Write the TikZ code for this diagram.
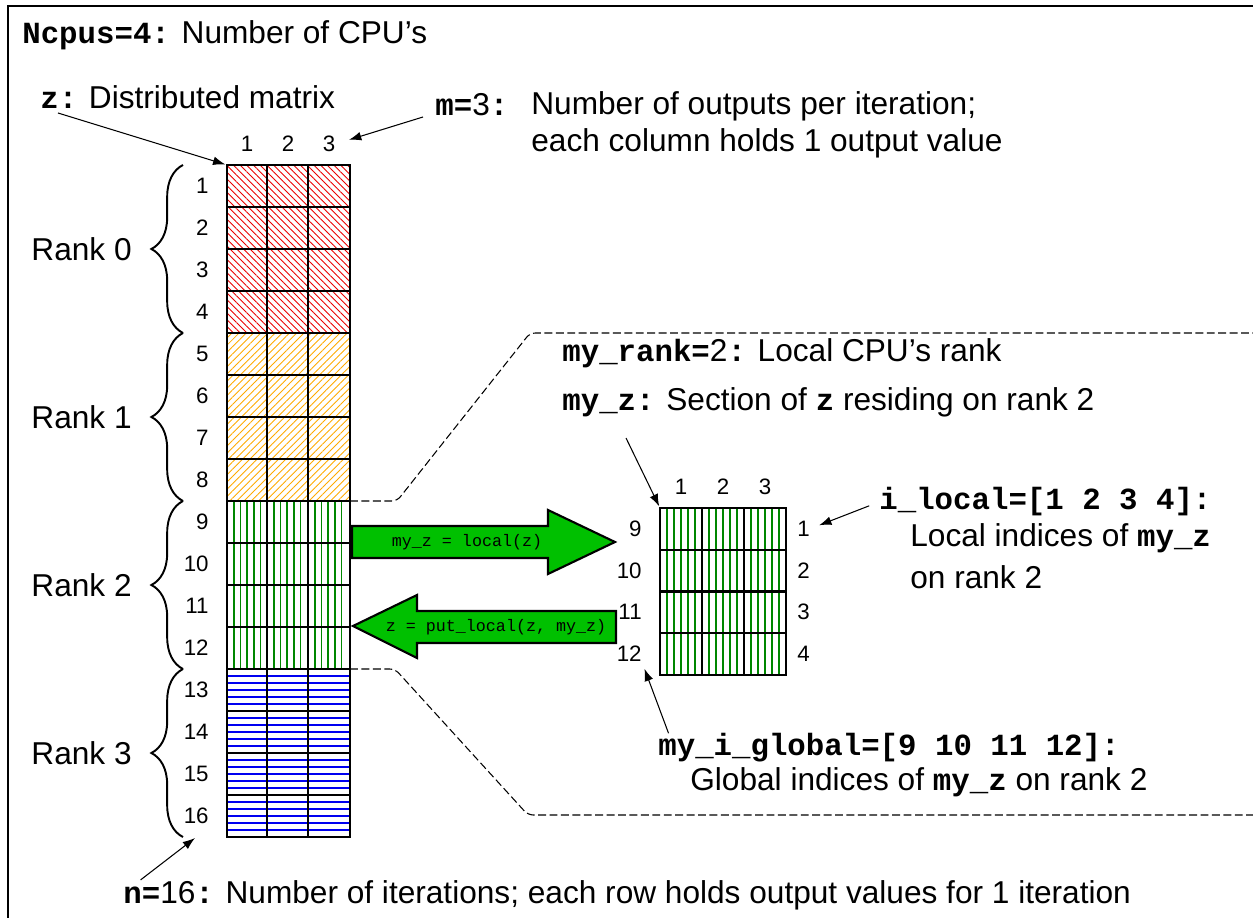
\documentclass[tikz,border=0pt]{standalone}
\usepackage{fontspec}
\setmainfont{Liberation Sans}
\setmonofont{Liberation Mono}
\usetikzlibrary{arrows.meta,patterns.meta,decorations.pathreplacing}
\definecolor{arrow green}{RGB}{0,192,0}
\definecolor{hatch red}{RGB}{235,0,0}
\definecolor{hatch orange}{RGB}{255,170,0}
\definecolor{hatch green}{RGB}{0,135,0}
\definecolor{hatch blue}{RGB}{0,0,240}
\newcommand{\cd}[1]{{\fontsize{17.5}{21}\selectfont\ttfamily\bfseries #1}}
\newcommand{\bigtext}{\fontsize{18}{21}\selectfont}
\newcommand{\idxtext}{\fontsize{12.7}{15}\selectfont}
\newcommand{\arrowcode}{\fontsize{9.5}{11}\selectfont\ttfamily}

\tikzset{
  ptr/.style={-{Latex[length=7pt,width=5pt]}, line width=0.6pt},
  zoomline/.style={dash pattern=on 4.5pt off 2pt, line width=0.6pt, rounded corners=3pt},
  rankbrace/.style={decorate, decoration={brace, amplitude=18pt}, line width=1.1pt},
  hatch0/.style={pattern={Lines[angle=-45,distance=2.7pt,line width=0.5pt]}, pattern color=hatch red},
  hatch1/.style={pattern={Lines[angle=45,distance=2.9pt,line width=0.5pt]}, pattern color=hatch orange},
  vline/.style={hatch green, line width=0.7pt},
  hline/.style={hatch blue, line width=0.7pt},
  bigarrow/.style={fill=arrow green, draw=black, line width=1.2pt},
  lbl/.style={inner sep=0pt}
}

\begin{document}
\begin{tikzpicture}[x=0.02cm, y=-0.02cm]
			\useasboundingbox (0,0) rectangle (1253,918);
			\clip (0,0) rectangle (1253,918);
			% frame
			\draw[line width=1.2pt] (8,6) rectangle (1300,1000);
			% distributed matrix z
			\foreach \k in {0,1}
				\fill[hatch\k] (227,{165+168*\k}) rectangle (350,{333+168*\k});
			\foreach \c in {227,267,308}
				\foreach \d in {7,13.5,20,27,33.5}
					\draw[vline] ({\c+\d},501) -- ({\c+\d},669);
			\foreach \i in {1,...,23}
				\draw[hline] (227,{669+7*\i}) -- (350,{669+7*\i});
			\foreach \r in {1,...,15}
				\draw[line width=0.6pt] (227,{165+42*\r}) -- (350,{165+42*\r});
			\foreach \c in {267,308}
				\draw[line width=1.3pt] (\c,165) -- (\c,837);
			\draw[line width=1pt] (227,165) rectangle (350,837);
			\coordinate (znw) at (227,165);
			% indices of z
			\foreach \r in {1,...,16}
				\node[lbl, anchor=east, font=\idxtext] (row\r) at (209,{144+42*\r}) {\r};
			\foreach \c/\x in {1/247,2/288,3/329}
				\node[lbl, font=\idxtext] (col\c) at (\x,144) {\c};
			% ranks
			\foreach \k in {0,...,3} {
				\draw[rankbrace] (183,{333+168*\k}) -- (183,{165+168*\k});
				\node[lbl, anchor=east, font=\bigtext] (ranklbl\k) at (132,{249+168*\k}) {Rank \k};
			}
			% zoom onto rank 2
			\draw[zoomline] (350,501) -- (397,501) -- (530,333) -- (1260,333);
			\draw[zoomline] (350,669) -- (395,669) -- (528,815) -- (1260,815);
			% local part my_z
			\foreach \c in {660,702,744}
				\foreach \d in {7,14,21,28,35}
					\draw[vline] ({\c+\d},508) -- ({\c+\d},675);
			\foreach \r in {1,2,3}
				\draw[line width=1.2pt] (660,{508+41.75*\r}) -- (786,{508+41.75*\r});
			\foreach \x in {702,744}
				\draw[line width=0.7pt] (\x,508) -- (\x,675);
			\draw[line width=1.1pt] (660,508) rectangle (786,675);
			\coordinate (lnw) at (660,508);
			\foreach \g [count=\r] in {9,10,11,12} {
				\node[lbl, anchor=east, font=\idxtext] (glob\g) at (642,{487+41.75*\r}) {\g};
				\node[lbl, anchor=west, font=\idxtext] (loc\r) at (797,{487+41.75*\r}) {\r};
			}
			\foreach \c/\x in {1/681,2/723,3/765}
				\node[lbl, font=\idxtext] (lcol\c) at (\x,487) {\c};
			% local / put_local
			\draw[bigarrow] (352,526) -- (548,526) -- (548,510) -- (615,542) -- (548,574) -- (548,558) -- (352,558) -- cycle;
			\node[lbl, font=\arrowcode] (getlocal) at (467,542) {my\_z = local(z)};
			\draw[bigarrow] (353,626) -- (417,595) -- (417,611) -- (616,611) -- (616,643) -- (417,643) -- (417,658) -- cycle;
			\node[lbl, font=\arrowcode] (putlocal) at (496,627) {z = put\_local(z, my\_z)};
			% texts
			\node[lbl, anchor=west, font=\bigtext] (ncpus) at (22,35) {\cd{Ncpus=4:} Number of CPU's};
			\node[lbl, anchor=west, font=\bigtext] (zkey) at (40,97) {\cd{z:} Distributed matrix};
			\node[lbl, anchor=west, font=\bigtext] (mkey) at (435,105) {\cd{m=}3\cd{:}};
			\node[lbl, anchor=west, font=\bigtext, align=left] (mtext) at (531,125) {Number of outputs per iteration;\\each column holds 1 output value};
			\node[lbl, anchor=west, font=\bigtext] (nkey) at (123,895) {\cd{n=}16\cd{:} Number of iterations; each row holds output values for 1 iteration};
			\node[lbl, anchor=west, font=\bigtext] (rankkey) at (562,353) {\cd{my\_rank=}2\cd{:} Local CPU's rank};
			\node[lbl, anchor=west, font=\bigtext] (myzkey) at (562,402) {\cd{my\_z:} Section of \cd{z} residing on rank 2};
			\node[lbl, anchor=west, font=\bigtext] (ilocal) at (879,502) {\cd{i\_local=[1 2 3 4]:}};
			\node[lbl, anchor=west, font=\bigtext] (ilocaltxt) at (910,538) {Local indices of \cd{my\_z}};
			\node[lbl, anchor=west, font=\bigtext] (ilocalrank) at (910,577) {on rank 2};
			\node[lbl, anchor=west, font=\bigtext] (iglobal) at (658,748) {\cd{my\_i\_global=[9 10 11 12]:}};
			\node[lbl, anchor=west, font=\bigtext] (iglobaltxt) at (690,782) {Global indices of \cd{my\_z} on rank 2};
			% pointers
			\coordinate (zfrom) at (58,113);
			\coordinate (mfrom) at (423,117);
			\coordinate (myzfrom) at (626,438);
			\coordinate (nto) at (195,838);
			\draw[ptr, shorten >=1pt] (zfrom) -- (znw);
			\draw[ptr, shorten >=8pt] (mfrom) -- (col3.east);
			\draw[ptr] ([xshift=10pt]nkey.north west) -- (nto);
			\draw[ptr, shorten >=1pt] (myzfrom) -- (lnw);
			\draw[ptr, shorten <=6pt, shorten >=5.5pt] (ilocal.west) -- (loc1.east);
			\draw[ptr, shorten >=4pt] ([xshift=6pt]iglobal.north west) -- (glob12.south east);
\end{tikzpicture}
\end{document}
